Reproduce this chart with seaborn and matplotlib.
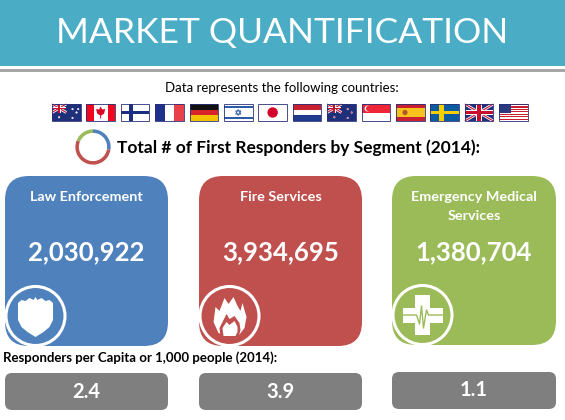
import matplotlib.pyplot as plt
import numpy as np
import seaborn as sns
from matplotlib.patches import Circle, FancyBboxPatch, Polygon, Rectangle

segments = ['Law Enforcement', 'Fire Services', 'Emergency Medical\nServices']
totals = [2030922, 3934695, 1380704]
per_capita = [2.4, 3.9, 1.1]
countries = ['AU', 'CA', 'FI', 'FR', 'DE', 'IL', 'JP', 'NL', 'NZ', 'SG', 'ES', 'SE', 'UK', 'US']
colors = ['#4F81BD', '#C0504D', '#9BBB59']

sns.set_theme(style='white')
plt.rcParams['font.family'] = ['Lato', 'DejaVu Sans']

fig = plt.figure(figsize=(5.65, 4.2), dpi=100)
ax = fig.add_axes([0, 0, 1, 1])
ax.set_xlim(0, 565)
ax.set_ylim(420, 0)
ax.axis('off')


def rect(x0, y0, x1, y1, c, z=3):
    ax.add_patch(Rectangle((x0, y0), x1 - x0, y1 - y0, fc=c, ec='none', zorder=z))


def rounded(x0, y0, x1, y1, r, c, z=2):
    p = FancyBboxPatch((x0 + r, y0 + r), x1 - x0 - 2 * r, y1 - y0 - 2 * r,
                       boxstyle='round,pad=%f,rounding_size=%f' % (r, r), fc=c, ec='none', zorder=z)
    ax.add_patch(p)
    return p


def union_jack(x, y, w, h):
    for a, b, lw, c in [((x, y), (x + w, y + h), 2.0, 'white'), ((x, y + h), (x + w, y), 2.0, 'white'),
                        ((x, y), (x + w, y + h), 0.8, '#C8102E'), ((x, y + h), (x + w, y), 0.8, '#C8102E')]:
        ax.plot([a[0], b[0]], [a[1], b[1]], color=c, lw=lw, zorder=4, solid_capstyle='butt')
    rect(x + w * .4, y, x + w * .6, y + h, 'white', 4)
    rect(x, y + h * .36, x + w, y + h * .64, 'white', 4)
    rect(x + w * .44, y, x + w * .56, y + h, '#C8102E', 4)
    rect(x, y + h * .42, x + w, y + h * .58, '#C8102E', 4)


def draw_flag(code, x, y, w=28.5, h=17):
    if code in ('AU', 'NZ'):
        rect(x, y, x + w, y + h, '#1F2F7A')
        union_jack(x, y, w * .5, h * .5)
        stars = [(.72, .3), (.86, .5), (.72, .82), (.25, .78)]
        if code == 'AU':
            stars.append((.92, .3))
        for sx, sy in stars:
            ax.add_patch(Circle((x + sx * w, y + sy * h), .8, fc='white' if code == 'AU' else '#E03040', ec='white', lw=.3, zorder=4))
    elif code == 'CA':
        rect(x, y, x + w, y + h, 'white')
        rect(x, y, x + w * .25, y + h, '#F0081F', 4)
        rect(x + w * .75, y, x + w, y + h, '#F0081F', 4)
        cx, cy = x + w / 2, y + h / 2
        ax.add_patch(Polygon([(cx, cy - 6), (cx + 1.5, cy - 3), (cx + 4.5, cy - 3.5), (cx + 3.5, cy + 1), (cx + .5, cy + 3),
                              (cx + .5, cy + 6), (cx - .5, cy + 6), (cx - .5, cy + 3), (cx - 3.5, cy + 1), (cx - 4.5, cy - 3.5), (cx - 1.5, cy - 3)],
                             fc='#D80621', ec='none', zorder=5))
    elif code == 'FI':
        rect(x, y, x + w, y + h, 'white')
        rect(x + w * .28, y, x + w * .42, y + h, '#1B2F80', 4)
        rect(x, y + h * .4, x + w, y + h * .6, '#1B2F80', 4)
    elif code == 'FR':
        for i, c in enumerate(['#1E2F8C', 'white', '#E8404A']):
            rect(x + i * w / 3, y, x + (i + 1) * w / 3, y + h, c)
    elif code == 'DE':
        for i, c in enumerate(['#111111', '#D8232A', '#F2C200']):
            rect(x, y + i * h / 3, x + w, y + (i + 1) * h / 3, c)
    elif code == 'IL':
        rect(x, y, x + w, y + h, 'white')
        rect(x, y + h * .1, x + w, y + h * .25, '#2A5CA8', 4)
        rect(x, y + h * .75, x + w, y + h * .9, '#2A5CA8', 4)
        cx, cy = x + w / 2, y + h / 2
        for s in (1, -1):
            ax.add_patch(Polygon([(cx, cy - s * 3), (cx + 2.6, cy + s * 1.6), (cx - 2.6, cy + s * 1.6)], fc='none', ec='#2A5CA8', lw=.6, zorder=4))
    elif code == 'JP':
        rect(x, y, x + w, y + h, 'white')
        ax.add_patch(Circle((x + w / 2, y + h / 2), 5.2, fc='#D4002A', ec='none', zorder=4))
    elif code == 'NL':
        for i, c in enumerate(['#C8202F', 'white', '#1F3A8C']):
            rect(x, y + i * h / 3, x + w, y + (i + 1) * h / 3, c)
    elif code == 'SG':
        rect(x, y, x + w, y + h / 2, '#EE2536')
        rect(x, y + h / 2, x + w, y + h, 'white')
        ax.add_patch(Circle((x + 6, y + 4.5), 3, fc='white', ec='none', zorder=4))
        ax.add_patch(Circle((x + 7.2, y + 4.5), 2.8, fc='#EE2536', ec='none', zorder=5))
    elif code == 'ES':
        rect(x, y, x + w, y + h, '#C8202F')
        rect(x, y + h * .25, x + w, y + h * .75, '#F6C21C', 4)
        ax.add_patch(Circle((x + 9, y + h / 2), 2.6, fc='#B5552A', ec='none', zorder=5))
    elif code == 'SE':
        rect(x, y, x + w, y + h, '#0B5C9E')
        rect(x + w * .3, y, x + w * .46, y + h, '#F7CE00', 4)
        rect(x, y + h * .4, x + w, y + h * .6, '#F7CE00', 4)
    elif code == 'UK':
        rect(x, y, x + w, y + h, '#1F2F7A')
        union_jack(x, y, w, h)
    elif code == 'US':
        for i in range(7):
            rect(x, y + i * h / 7, x + w, y + (i + .5) * h / 7, '#C8202F')
            rect(x, y + (i + .5) * h / 7, x + w, y + (i + 1) * h / 7, 'white')
        rect(x, y, x + w * .42, y + h * .5, '#2A3A80', 4)
    ax.add_patch(Rectangle((x, y), w, h, fc='none', ec='#2B2F77', lw=.6, zorder=6))


def shield(cx, cy, c):
    pts = [(-17.5, -14), (-14, -17), (-10, -16), (-6, -19), (-2, -17), (0, -20), (2, -17), (6, -19), (10, -16),
           (14, -17), (17.5, -14), (17.5, 3), (14, 10), (8, 15), (0, 20), (-8, 15), (-14, 10), (-17.5, 3)]
    ax.add_patch(Polygon([(cx + a, cy + 1 + b) for a, b in pts], fc='white', ec='none', zorder=6))


def flame(cx, cy, c):
    outer = [(-1, 20), (-11, 16), (-16, 5), (-14, -10), (-10, -6), (-5, -19), (-1, -13), (4, -20), (8, -11),
             (11, -6), (13, -14), (17, 0), (15, 11), (8, 20)]
    ax.add_patch(Polygon([(cx + a, cy + 1 + b) for a, b in outer], fc='white', ec='none', zorder=6))
    inner = [(-9, 21), (-10, 11), (-6, 3), (-3, -3), (0, 2), (5, -1), (10, 6), (11, 13), (9, 21)]
    ax.add_patch(Polygon([(cx + a, cy + 1 + b) for a, b in inner], fc=c, ec='none', zorder=7))
    core = [(-6, 19), (-7, 11), (-3, 5), (0, 8), (5, 4), (8, 10), (8, 15), (6, 19)]
    ax.add_patch(Polygon([(cx + a, cy + 1 + b) for a, b in core], fc='white', ec='none', zorder=8))


def cross(cx, cy, c):
    rect(cx - 7.5, cy - 20, cx + 7.5, cy + 20, 'white', 6)
    rect(cx - 20, cy - 7.5, cx + 20, cy + 7.5, 'white', 6)
    xs = np.array([-20, -6, -3, -1, 1, 4, 6, 20])
    ys = np.array([0, 0, 9, -9, 13, -5, 0, 0])
    ax.plot(cx + xs, cy + ys, color=c, lw=1, zorder=7)


# header
rect(0, 0, 565, 66, '#4BACC6')
rect(0, 69, 565, 72, '#A6A6A6')
ax.text(282, 33, 'MARKET QUANTIFICATION', color='white', fontsize=25.5, ha='center', va='center', zorder=5)

ax.text(282, 88, 'Data represents the following countries:', color='black', fontsize=9.5, ha='center', va='center')
for i, code in enumerate(countries):
    draw_flag(code, 52 + i * 34.4, 104)
ax.text(117, 148, 'Total # of First Responders by Segment (2014):', color='black', fontsize=12.5,
        fontweight='bold', ha='left', va='center')

# donut from the segment totals
donut = fig.add_axes([75 / 565, 1 - 165 / 420, 36 / 565, 36 / 420])
donut.pie(totals, colors=colors, startangle=90, counterclock=False, wedgeprops=dict(width=0.2, edgecolor='none'))
donut.set_xlim(-1.02, 1.02)
donut.set_ylim(-1.02, 1.02)
donut.set_aspect('equal')

icons = [shield, flame, cross]
xs = [(5, 168), (199, 362), (392, 556)]
ys = [(176, 346), (176, 346), (176, 345)]
gy = [(373, 410), (373, 410), (372, 409)]
for i, seg in enumerate(segments):
    x0, x1 = xs[i]
    y0, y1 = ys[i]
    cx = (x0 + x1) / 2
    card = rounded(x0, y0, x1, y1, 24, colors[i])
    for j, line in enumerate(seg.split('\n')):
        ax.text(cx, 197 + j * 19, line, color='white', fontsize=10.4, fontweight='bold', ha='center', va='center', zorder=5)
    ax.text(cx, 252, format(totals[i], ','), color='white', fontsize=18.5, fontweight='bold', ha='center', va='center', zorder=5)
    ring_x = x0 + 30.5
    ring = Circle((ring_x, y1 - 30), 29.5, fc=colors[i], ec='white', lw=2.2, zorder=5)
    ax.add_patch(ring)
    ring.set_clip_path(card)
    icons[i](ring_x, y1 - 30, colors[i])
    rounded(x0, gy[i][0], x1, gy[i][1], 7, '#7F7F7F')
    ax.text(cx, sum(gy[i]) / 2, '%.1f' % per_capita[i], color='white', fontsize=14.5, fontweight='bold', ha='center', va='center', zorder=5)

ax.text(3, 358, 'Responders per Capita or 1,000 people (2014):', color='black', fontsize=9.5, fontweight='bold', ha='left', va='center')

fig.savefig('out.png', dpi=100)
